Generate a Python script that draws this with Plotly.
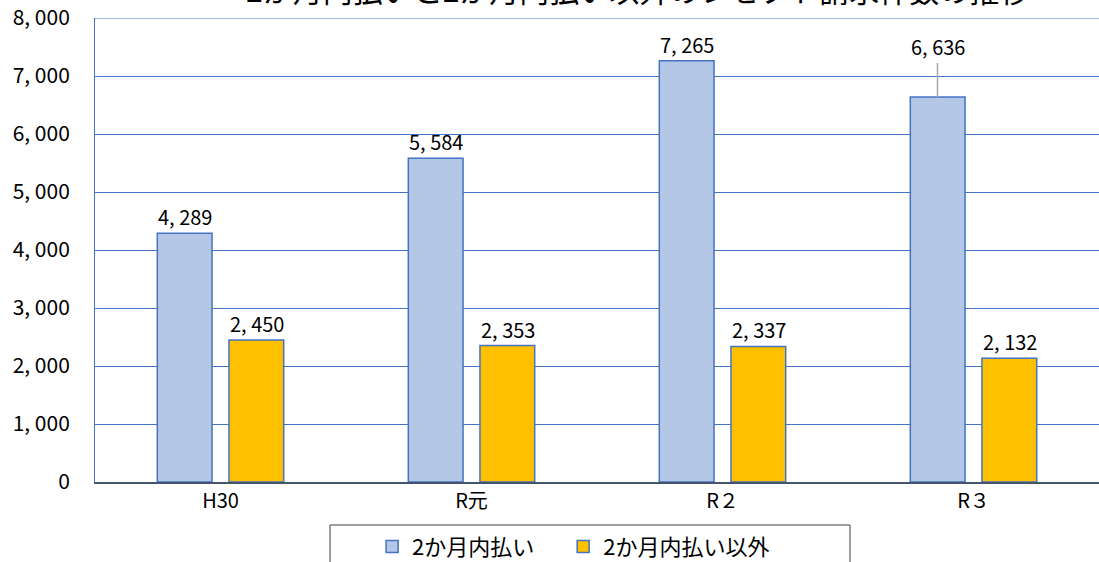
import plotly.graph_objects as go

categories = ["H30", "R元", "R２", "R３"]
within_2m = [4289, 5584, 7265, 6636]
other = [2450, 2353, 2337, 2132]
series_names = ["2か月内払い", "2か月内払い以外"]
y_ticks = [0, 1000, 2000, 3000, 4000, 5000, 6000, 7000, 8000]
title_text = "2か月内払いと2か月内払い以外のレセプト請求件数の推移"

FONT = "Noto Sans CJK JP"

def fmt(v):
    s = f"{v:,}"
    return s.replace(",", ", ")

fig = go.Figure()
fig.add_trace(go.Bar(
    x=categories, y=within_2m, name=series_names[0], legend="legend",
    marker=dict(color="#B4C7E7", line=dict(color="#4472C4", width=1.5)),
))
fig.add_trace(go.Bar(
    x=categories, y=other, name=series_names[1], legend="legend2",
    marker=dict(color="#FFC000", line=dict(color="#4472C4", width=1.5)),
))

annotations = []
for i, c in enumerate(categories):
    v = within_2m[i]
    if i == 3:
        annotations.append(dict(
            x=c, y=v, xref="x", yref="y", text=fmt(v), xshift=-36,
            showarrow=True, arrowhead=0, arrowcolor="#A6A6A6", arrowwidth=1.5,
            ax=0, ay=-34, yanchor="bottom",
            font=dict(family=FONT, size=20, color="#000000"),
        ))
    else:
        annotations.append(dict(
            x=c, y=v, xref="x", yref="y", text=fmt(v), xshift=-36, yshift=0,
            showarrow=False, yanchor="bottom",
            font=dict(family=FONT, size=20, color="#000000"),
        ))
    v2 = other[i]
    annotations.append(dict(
        x=c, y=v2, xref="x", yref="y", text=fmt(v2), xshift=36, yshift=0,
        showarrow=False, yanchor="bottom",
        font=dict(family=FONT, size=20, color="#000000"),
    ))

annotations.append(dict(
    x=0.54, y=1, xref="paper", yref="paper", text=title_text,
    showarrow=False, yanchor="middle", yshift=29,
    font=dict(family=FONT, size=30, color="#000000"),
))

legend_style = dict(
    orientation="h", xanchor="left", y=-0.094, yanchor="top",
    borderwidth=0, bgcolor="rgba(0,0,0,0)",
    font=dict(family=FONT, size=22, color="#000000"),
    itemwidth=30,
)

fig.update_layout(
    width=1099, height=562,
    margin=dict(l=95, r=0, t=18, b=80, autoexpand=False),
    plot_bgcolor="white", paper_bgcolor="white",
    barmode="group", bargap=0.429, bargroupgap=0.236,
    font=dict(family=FONT, size=20, color="#000000"),
    showlegend=True,
    legend=dict(x=0.276, **legend_style),
    legend2=dict(x=0.4663, **legend_style),
    shapes=[
        dict(
            type="rect", xref="paper", yref="paper",
            x0=0.2341, x1=0.7520, y0=-0.0927, y1=-0.25,
            line=dict(color="#404040", width=1), fillcolor="rgba(0,0,0,0)",
            layer="below",
        ),
        dict(
            type="line", xref="paper", yref="y",
            x0=0, x1=1, y0=y_ticks[-1], y1=y_ticks[-1],
            line=dict(color="#4472C4", width=1), layer="below",
        ),
    ],
    annotations=annotations,
    xaxis=dict(
        showgrid=False, showline=True, linecolor="#44546A", linewidth=2,
        ticks="", tickfont=dict(family=FONT, size=20), automargin=False,
    ),
    yaxis=dict(
        range=[0, 8000], tickvals=y_ticks, ticktext=[fmt(t) for t in y_ticks],
        showgrid=True, gridcolor="#4472C4", gridwidth=1,
        showline=True, linecolor="#4472C4", linewidth=1,
        zeroline=False, ticks="", ticklabelstandoff=20, automargin=False,
        ticklabeloverflow="allow",
        tickfont=dict(family=FONT, size=21),
    ),
)

fig.write_html(
    "out.html",
    config={"displayModeBar": False},
    post_script="document.body.style.margin='0';document.body.style.overflow='hidden';",
)
